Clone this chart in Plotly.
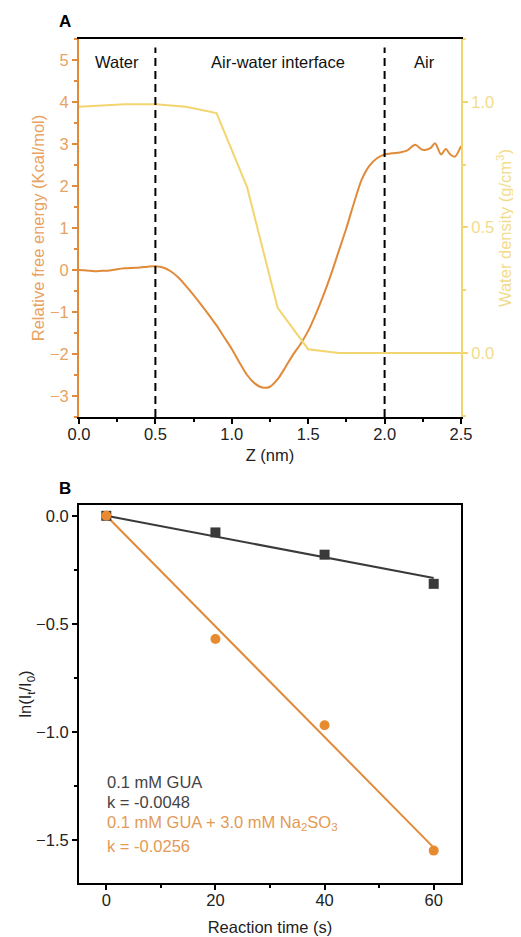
import plotly.graph_objects as go

# ---------- Panel A data ----------
z_energy = [0.0, 0.05, 0.1, 0.15, 0.2, 0.25, 0.3, 0.35, 0.4, 0.45, 0.5, 0.55, 0.6, 0.65,
            0.7, 0.75, 0.8, 0.85, 0.9, 0.95, 1.0, 1.05, 1.1, 1.15, 1.2, 1.25, 1.3, 1.35,
            1.4, 1.45, 1.5, 1.55, 1.6, 1.65, 1.7, 1.75, 1.8, 1.85, 1.9, 1.95, 2.0, 2.05,
            2.1, 2.15, 2.2, 2.25, 2.3, 2.33, 2.37, 2.4, 2.43, 2.46, 2.5]
free_energy = [0.0, -0.01, -0.03, -0.02, -0.01, 0.02, 0.04, 0.05, 0.06, 0.08, 0.09, 0.06, -0.03, -0.18,
               -0.38, -0.6, -0.83, -1.07, -1.32, -1.6, -1.88, -2.2, -2.5, -2.7, -2.8, -2.78, -2.6, -2.32,
               -2.02, -1.76, -1.45, -1.05, -0.6, -0.1, 0.45, 1.0, 1.6, 2.15, 2.48, 2.66, 2.75, 2.78,
               2.8, 2.85, 2.98, 2.86, 2.9, 3.02, 2.75, 2.88, 2.75, 2.7, 2.95]

z_density = [0.0, 0.3, 0.5, 0.7, 0.9, 1.1, 1.3, 1.5, 1.7, 1.9, 2.1, 2.3, 2.5]
water_density = [0.98, 0.99, 0.99, 0.98, 0.955, 0.66, 0.18, 0.015, 0.0, 0.0, 0.0, 0.0, 0.0]

boundaries = [0.5, 2.0]
region_labels = ["Water", "Air-water interface", "Air"]
region_x = [0.25, 1.305, 2.26]

# ---------- Panel B data ----------
time_s = [0, 20, 40, 60]
gua = [0.0, -0.077, -0.18, -0.315]
gua_na2so3 = [0.0, -0.57, -0.97, -1.55]
k_gua = -0.0048
k_gua_na = -0.0256
fit_t = [0, 60]

# ---------- Styles ----------
FONT = "Liberation Sans, Arial, sans-serif"
FS = 16.5
ORANGE = "#E08A3A"
ORANGE_TXT = "#E8A262"
YELLOW = "#F2D56E"
YELLOW_TXT = "#F2DC8C"
DARK = "#3a3a3a"

# page body adds an 8px margin, so the figure is placed at (8, 8)
OFF = 8
W, H = 521 - OFF, 937 - OFF


def px_x(px):
    return (px - OFF) / W


def px_y(py):
    return 1 - (py - OFF) / H


fig = go.Figure()

fig.add_trace(go.Scatter(x=z_energy, y=free_energy, mode="lines",
                         line=dict(color=ORANGE, width=2, shape="spline", smoothing=0.8),
                         xaxis="x", yaxis="y", showlegend=False))
fig.add_trace(go.Scatter(x=z_density, y=water_density, mode="lines",
                         line=dict(color=YELLOW, width=2),
                         xaxis="x", yaxis="y2", showlegend=False))

# Panel B
fig.add_trace(go.Scatter(x=fit_t, y=[k_gua * t for t in fit_t], mode="lines",
                         line=dict(color=DARK, width=2), xaxis="x2", yaxis="y3", showlegend=False))
fig.add_trace(go.Scatter(x=fit_t, y=[k_gua_na * t for t in fit_t], mode="lines",
                         line=dict(color=ORANGE, width=2), xaxis="x2", yaxis="y3", showlegend=False))
fig.add_trace(go.Scatter(x=time_s, y=gua, mode="markers",
                         marker=dict(symbol="square", size=10, color=DARK),
                         xaxis="x2", yaxis="y3", showlegend=False))
fig.add_trace(go.Scatter(x=time_s, y=gua_na2so3, mode="markers",
                         marker=dict(symbol="circle", size=10, color="#E88A30"),
                         xaxis="x2", yaxis="y3", showlegend=False))

xdom = [px_x(79), px_x(461)]
ydomA = [px_y(417), px_y(39)]
ydomB = [px_y(883), px_y(505)]

shapes = []
for b in boundaries:
    shapes.append(dict(type="line", xref="x", yref="y", x0=b, x1=b, y0=-3.5, y1=5.3,
                       line=dict(color="black", width=2, dash="8px,5px")))

annotations = []
for lab, xv in zip(region_labels, region_x):
    annotations.append(dict(text=lab, x=xv, y=4.95, xref="x", yref="y", showarrow=False,
                            font=dict(size=FS, color="#111111", family=FONT),
                            xanchor="center", yanchor="middle"))
annotations += [
    dict(text="<b>A</b>", x=px_x(65), y=px_y(22), xref="paper", yref="paper", showarrow=False,
         font=dict(size=17, color="black", family=FONT), xanchor="center", yanchor="middle"),
    dict(text="<b>B</b>", x=px_x(65), y=px_y(488), xref="paper", yref="paper", showarrow=False,
         font=dict(size=17, color="black", family=FONT), xanchor="center", yanchor="middle"),
]
ann_lines = [
    ("0.1 mM GUA", 782, "#444444"),
    ("k = %.4f" % k_gua, 802, "#444444"),
    ("0.1 mM GUA + 3.0 mM Na<sub>2</sub>SO<sub>3</sub>", 823, "#E39A55"),
    ("k = %.4f" % k_gua_na, 846, "#E39A55"),
]
for txt, ypx, col in ann_lines:
    annotations.append(dict(text=txt, x=px_x(105), y=px_y(ypx), xref="paper", yref="paper",
                            showarrow=False, font=dict(size=FS, color=col, family=FONT),
                            xanchor="left", yanchor="middle"))

fig.update_layout(
    width=W, height=H,
    margin=dict(l=0, r=0, t=0, b=0, autoexpand=False),
    paper_bgcolor="white", plot_bgcolor="white",
    font=dict(family=FONT, size=FS, color="#222222"),
    shapes=shapes, annotations=annotations,
    xaxis=dict(domain=xdom, anchor="y", range=[0, 2.5], tickvals=[0, 0.5, 1.0, 1.5, 2.0, 2.5],
               tickformat=".1f", ticks="outside", ticklen=5, tickwidth=1.5, tickcolor="black",
               minor=dict(dtick=0.25, ticks="outside", ticklen=3, tickcolor="black"),
               showline=True, linecolor="black", linewidth=2, mirror=True, showgrid=False,
               zeroline=False, automargin=False, ticklabelstandoff=-4,
               tickfont=dict(size=FS, color="#222222"),
               title=dict(text="Z (nm)", standoff=8, font=dict(size=FS, color="#222222"))),
    yaxis=dict(domain=ydomA, anchor="x", range=[-3.5, 5.5], dtick=1, ticks="outside",
               ticklen=5, tickwidth=1.5, tickcolor=ORANGE,
               minor=dict(dtick=0.5, ticks="outside", ticklen=3, tickcolor=ORANGE),
               showline=True, linecolor=ORANGE, linewidth=2, showgrid=False, zeroline=False,
               automargin=False, tickfont=dict(size=FS, color=ORANGE_TXT),
               title=dict(text="Relative free energy (Kcal/mol)", standoff=1,
                          font=dict(size=FS, color=ORANGE_TXT))),
    yaxis2=dict(overlaying="y", side="right", anchor="x", range=[-0.255, 1.25],
                tickvals=[0, 0.5, 1.0], tickformat=".1f", ticks="outside", ticklen=5,
                tickwidth=1.5, tickcolor=YELLOW,
                minor=dict(dtick=0.25, ticks="outside", ticklen=3, tickcolor=YELLOW),
                showline=True, linecolor=YELLOW, linewidth=2, showgrid=False, zeroline=False,
                automargin=False, tickfont=dict(size=FS, color=YELLOW_TXT),
                title=dict(text="Water density (g/cm<sup>3</sup>)", standoff=6,
                           font=dict(size=FS, color=YELLOW_TXT))),
    xaxis2=dict(domain=xdom, anchor="y3", range=[-5, 65], dtick=20, ticks="outside",
                ticklen=5, tickwidth=1.5, tickcolor="black",
                minor=dict(dtick=10, ticks="outside", ticklen=3, tickcolor="black"),
                showline=True, linecolor="black", linewidth=2, mirror=True, showgrid=False,
                zeroline=False, automargin=False, ticklabelstandoff=-4,
                tickfont=dict(size=FS, color="#222222"),
                title=dict(text="Reaction time (s)", standoff=14,
                           font=dict(size=FS, color="#222222"))),
    yaxis3=dict(domain=ydomB, anchor="x2", range=[-1.70, 0.05], dtick=0.5, tickformat=".1f",
                ticks="outside", ticklen=5, tickwidth=1.5, tickcolor="black",
                minor=dict(dtick=0.25, ticks="outside", ticklen=3, tickcolor="black"),
                showline=True, linecolor="black", linewidth=2, mirror=True, showgrid=False,
                zeroline=False, automargin=False, tickfont=dict(size=FS, color="#222222"),
                title=dict(text="ln(I<sub>t</sub>/I<sub>0</sub>)", standoff=0,
                           font=dict(size=FS, color="#222222"))),
)

fig.write_html("out.html")
